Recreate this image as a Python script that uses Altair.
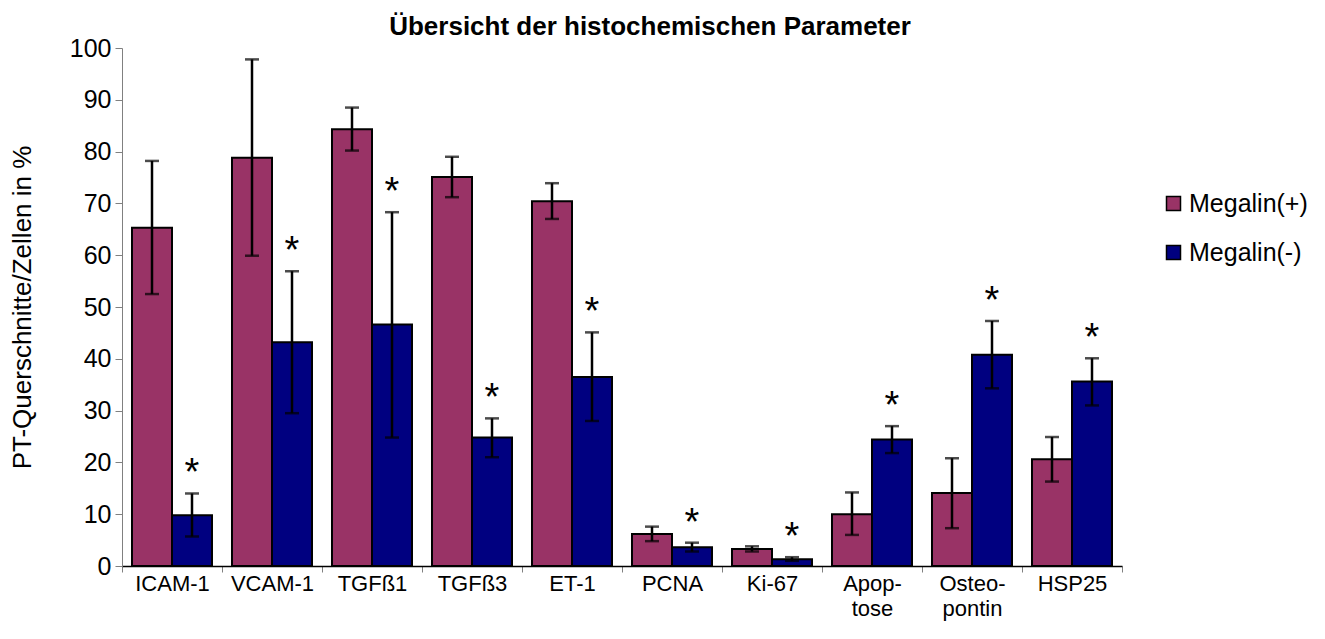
import altair as alt
import pandas as pd

categories = ["ICAM-1", "VCAM-1", "TGFß1", "TGFß3", "ET-1", "PCNA", "Ki-67",
              "Apoptose", "Osteopontin", "HSP25"]
groups = ["Megalin(+)", "Megalin(-)"]

pos_mean = [65.3, 78.8, 84.3, 75.1, 70.4, 6.2, 3.3, 10.0, 14.1, 20.6]
pos_low = [52.5, 59.9, 80.2, 71.2, 67.0, 4.8, 2.8, 6.0, 7.3, 16.3]
pos_high = [78.2, 97.8, 88.5, 79.0, 73.9, 7.6, 3.8, 14.2, 20.8, 24.9]

neg_mean = [9.8, 43.2, 46.6, 24.8, 36.5, 3.6, 1.3, 24.4, 40.8, 35.6]
neg_low = [5.7, 29.5, 24.8, 21.0, 28.0, 2.8, 1.0, 21.8, 34.3, 31.0]
neg_high = [14.0, 56.9, 68.3, 28.5, 45.1, 4.5, 1.7, 27.0, 47.3, 40.1]

neg_star = ["*", "*", "*", "*", "*", "*", "*", "*", "*", "*"]

rows = []
for i, c in enumerate(categories):
    rows.append({"cat": c, "group": groups[0], "mean": pos_mean[i],
                 "low": pos_low[i], "high": pos_high[i], "star": ""})
    rows.append({"cat": c, "group": groups[1], "mean": neg_mean[i],
                 "low": neg_low[i], "high": neg_high[i], "star": neg_star[i]})
df = pd.DataFrame(rows)

FONT = "Liberation Sans"

x_enc = alt.X(
    "cat:N", sort=categories,
    scale=alt.Scale(paddingInner=0, paddingOuter=0),
    axis=alt.Axis(
        title=None, labelAngle=0, labelFontSize=22, labelFont=FONT,
        labelColor="black", labelPadding=1, tickSize=6, tickColor="#808080",
        domainColor="black", domainWidth=1.5, tickBand="extent",
        labelLineHeight=25,
        labelExpr="datum.value == 'Apoptose' ? ['Apop-', 'tose'] : "
                  "(datum.value == 'Osteopontin' ? ['Osteo-', 'pontin'] : datum.label)",
    ),
)
xoff_enc = alt.XOffset("group:N", sort=groups,
                       scale=alt.Scale(paddingInner=0, paddingOuter=0.25))
y_scale = alt.Scale(domain=[0, 100], nice=False)

bars = alt.Chart(df).mark_bar(stroke="black", strokeWidth=2).encode(
    x=x_enc,
    xOffset=xoff_enc,
    y=alt.Y("mean:Q", scale=y_scale,
            axis=alt.Axis(
                title="PT-Querschnitte/Zellen in %", titleFont=FONT,
                titleFontSize=26, titleFontWeight="normal", titleColor="black",
                titleX=-100, titleY=259, titleBaseline="middle", titleAlign="center",
                values=list(range(0, 101, 10)), labelFontSize=25, labelFont=FONT,
                labelColor="black", labelPadding=4, tickSize=7,
                tickColor="#808080", domainColor="#808080", grid=False)),
    color=alt.Color("group:N", sort=groups,
                    scale=alt.Scale(domain=groups, range=["#993366", "#000080"]),
                    legend=alt.Legend(
                        title=None, orient="none", legendX=1039, legendY=143,
                        symbolType="square", symbolSize=196,
                        symbolStrokeColor="black", symbolStrokeWidth=1.5,
                        symbolOpacity=1, labelFontSize=25, labelFont=FONT,
                        labelColor="black", rowPadding=23, labelOffset=3)),
)

err = alt.Chart(df).mark_rule(color="black", strokeWidth=2.5).encode(
    x=x_enc, xOffset=xoff_enc,
    y=alt.Y("low:Q", scale=y_scale), y2="high:Q",
)
caps_hi = alt.Chart(df).mark_tick(color="black", thickness=2.5, size=14).encode(
    x=x_enc, xOffset=xoff_enc, y=alt.Y("high:Q", scale=y_scale),
)
caps_lo = alt.Chart(df).mark_tick(color="black", thickness=2.5, size=14).encode(
    x=x_enc, xOffset=xoff_enc, y=alt.Y("low:Q", scale=y_scale),
)
stars = alt.Chart(df).transform_filter("datum.star != ''").mark_text(
    fontSize=38, font=FONT, color="black", dy=-19
).encode(
    x=x_enc, xOffset=xoff_enc, y=alt.Y("high:Q", scale=y_scale), text="star:N",
)

chart = alt.layer(bars, err, caps_hi, caps_lo, stars).properties(
    width=1000, height=518,
    background="white",
    autosize=alt.AutoSizeParams(type="none"),
    padding={"left": 114, "top": 40, "right": 195, "bottom": 65},
    title=alt.TitleParams(
        "Übersicht der histochemischen Parameter", font=FONT, fontSize=26,
        fontWeight="bold", color="black", anchor="middle", dx=28, dy=12, offset=8),
).configure_view(strokeWidth=0, stroke="transparent")

chart.save("out.html", embed_options={"renderer": "svg", "actions": False})
